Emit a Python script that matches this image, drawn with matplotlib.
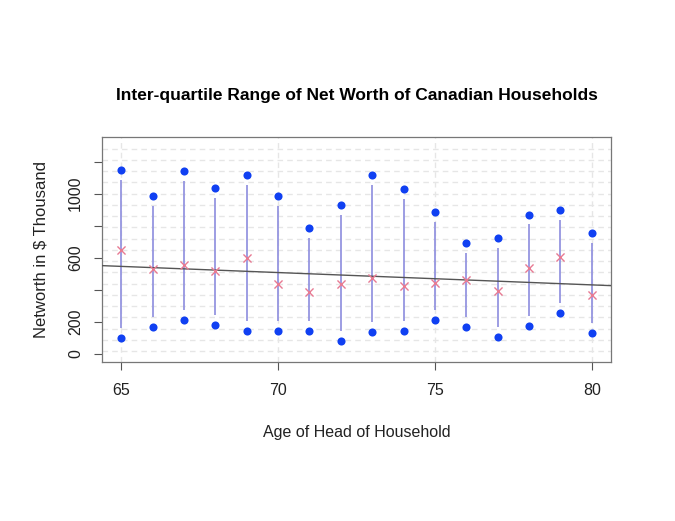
import numpy as np
import matplotlib
matplotlib.use("Agg")
import matplotlib.pyplot as plt

ages = [65, 66, 67, 68, 69, 70, 71, 72, 73, 74, 75, 76, 77, 78, 79, 80]
q3 = [1146, 986, 1144, 1036, 1117, 986, 787, 928, 1115, 1027, 888, 691, 722, 870, 897, 755]
q1 = [102, 168, 212, 183, 145, 145, 141, 79, 135, 141, 212, 166, 108, 172, 257, 131]
median = [650, 529, 556, 515, 596, 438, 388, 434, 477, 421, 444, 463, 394, 538, 608, 369]
yticks = [0, 200, 400, 600, 800, 1000, 1200]
ytick_labels = ["0", "200", "", "600", "", "1000", ""]
xticks = [65, 70, 75, 80]

plt.rcParams['font.family'] = ['Liberation Sans', 'DejaVu Sans']

fig = plt.figure(figsize=(6.75, 5.21), dpi=100)
ax = fig.add_axes([0.1516, 0.3046, 0.9047 - 0.1516, 0.7365 - 0.3046])

ylo, yhi = -52, 1352
xlo, xhi = 64.4, 80.6
ax.set_xlim(xlo, xhi)
ax.set_ylim(ylo, yhi)

# grid
for gy in np.linspace(ylo, yhi, 21)[1:-1]:
    ax.axhline(gy, color='#e6e6e6', lw=1, ls=(0, (4, 3)), zorder=0)
for gx in xticks:
    ax.axvline(gx, color='#e6e6e6', lw=1, ls=(0, (4, 3)), zorder=0)

# segments with gaps (type "b")
gap = 62
ages_a = np.array(ages)
lo = np.array(q1)
hi = np.array(q3)
ax.vlines(ages_a, lo + gap, hi - gap, color='#9595e0', lw=1.3, zorder=2)
ax.scatter(ages_a, hi, s=34, color='#1040f2', zorder=3, linewidths=0)
ax.scatter(ages_a, lo, s=34, color='#1040f2', zorder=3, linewidths=0)
ax.scatter(ages_a, median, s=34, marker='x', color='#e87a92', linewidths=1.0, zorder=4)

# regression line
b, a = np.polyfit(ages_a, np.array(median), 1)
xs = np.array([xlo, xhi])
ax.plot(xs, a + b * xs, color='#555555', lw=1, zorder=3)

ax.set_xticks(xticks)
ax.set_xticklabels([str(t) for t in xticks], fontsize=11.5)
ax.set_yticks(yticks)
ax.set_yticklabels(ytick_labels, fontsize=11.5, rotation=90, va='center')
ax.tick_params(axis='both', length=6, width=0.8, color='#555555', labelcolor='#222222')
ax.tick_params(axis='x', pad=9)
ax.tick_params(axis='y', pad=8)
for s in ax.spines.values():
    s.set_color('#777777')
    s.set_linewidth(0.9)

ax.set_xlabel("Age of Head of Household", fontsize=11.5, labelpad=19, color='#222222')
ax.set_ylabel("Networth in $ Thousand", fontsize=12, labelpad=14, color='#222222')
ax.set_title("Inter-quartile Range of Net Worth of Canadian Households",
             fontsize=12.5, fontweight='bold', pad=27)

fig.savefig("out.png", dpi=100)
